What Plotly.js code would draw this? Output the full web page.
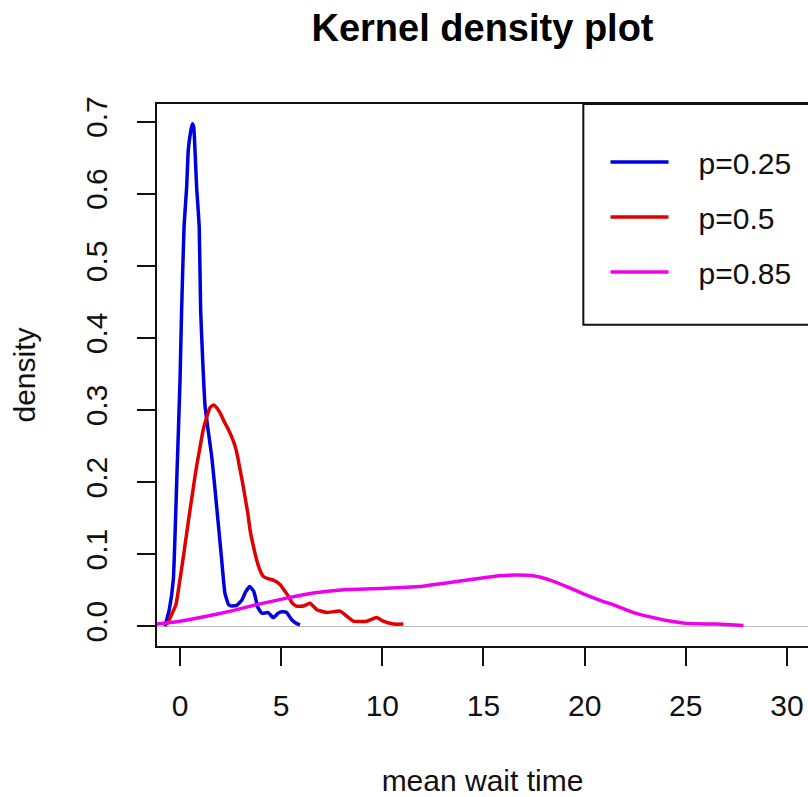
<!DOCTYPE html>
<html>
<head>
<meta charset="utf-8">
<script src="https://cdn.plot.ly/plotly-3.0.1.min.js"></script>
<style>html,body{margin:0;padding:0;background:#fff;overflow:hidden}</style>
</head>
<body>
<div id="chart" style="width:808px;height:797px"></div>
<script>
// ---- data ----
var seriesNames = ["p=0.25", "p=0.5", "p=0.85"];
var seriesColors = ["#0000dd", "#e00000", "#ee00ee"];

var blueX = [-0.74, -0.53, -0.33, -0.16, 0.0, 0.08, 0.20, 0.33, 0.41, 0.52, 0.61, 0.68, 0.74, 0.82, 0.95, 1.02, 1.12, 1.24, 1.40, 1.57, 1.73, 1.90, 2.06, 2.22, 2.40, 2.55, 2.80, 3.05, 3.25, 3.45, 3.65, 3.85, 4.05, 4.35, 4.61, 4.85, 5.05, 5.27, 5.52, 5.75, 5.93];
var blueY = [0.0, 0.023, 0.065, 0.203, 0.34, 0.439, 0.554, 0.61, 0.661, 0.685, 0.697, 0.692, 0.661, 0.61, 0.554, 0.439, 0.37, 0.305, 0.27, 0.235, 0.19, 0.14, 0.092, 0.046, 0.030, 0.028, 0.029, 0.036, 0.048, 0.055, 0.048, 0.026, 0.018, 0.019, 0.012, 0.018, 0.020, 0.019, 0.009, 0.004, 0.002];

var redX = [-0.66, -0.45, -0.2, 0.0, 0.2, 0.41, 0.62, 0.82, 1.0, 1.15, 1.32, 1.48, 1.65, 1.82, 1.98, 2.2, 2.39, 2.55, 2.72, 2.85, 2.97, 3.1, 3.21, 3.35, 3.46, 3.62, 3.79, 3.95, 4.12, 4.35, 4.61, 4.94, 5.15, 5.35, 5.55, 5.75, 6.1, 6.43, 6.76, 7.25, 7.91, 8.24, 8.57, 9.23, 9.72, 10.05, 10.55, 11.04];
var redY = [0.002, 0.014, 0.03, 0.065, 0.103, 0.145, 0.185, 0.222, 0.25, 0.273, 0.29, 0.303, 0.307, 0.303, 0.296, 0.283, 0.273, 0.263, 0.25, 0.235, 0.217, 0.198, 0.18, 0.157, 0.134, 0.112, 0.092, 0.078, 0.069, 0.066, 0.064, 0.058, 0.05, 0.042, 0.032, 0.028, 0.028, 0.032, 0.023, 0.019, 0.021, 0.014, 0.007, 0.007, 0.012, 0.007, 0.003, 0.003];

var magX = [-1.14, 0.0, 1.32, 2.5, 3.79, 5.27, 6.59, 8.24, 9.5, 10.43, 11.86, 13.18, 14.67, 15.82, 16.64, 17.46, 18.29, 19.11, 19.94, 20.76, 21.59, 22.41, 23.23, 24.06, 25.05, 26.53, 27.85];
var magY = [0.003, 0.007, 0.014, 0.021, 0.030, 0.039, 0.046, 0.051, 0.052, 0.053, 0.055, 0.060, 0.066, 0.070, 0.071, 0.070, 0.064, 0.055, 0.045, 0.036, 0.028, 0.019, 0.013, 0.008, 0.004, 0.003, 0.001];

var xTicks = [0, 5, 10, 15, 20, 25, 30];
var yTicks = [0, 0.1, 0.2, 0.3, 0.4, 0.5, 0.6, 0.7];
var yTickText = ["0.0", "0.1", "0.2", "0.3", "0.4", "0.5", "0.6", "0.7"];

// ---- build ----
var FONT = "Liberation Sans, Arial, Helvetica, sans-serif";
var xs = [blueX, redX, magX], ys = [blueY, redY, magY];
var traces = xs.map(function (x, i) {
  return {
    x: x, y: ys[i], type: "scatter", mode: "lines",
    name: "&nbsp;&nbsp;&nbsp;" + seriesNames[i], legendgroup: "g" + i,
    line: {color: seriesColors[i], width: 3.5, shape: "spline", smoothing: 0.4},
    hoverinfo: "skip"
  };
});

var axisFont = {family: FONT, size: 30, color: "#111"};
var layout = {
  width: 808, height: 797,
  margin: {l: 157, r: 0, t: 104, b: 151, pad: 0},
  paper_bgcolor: "#fff", plot_bgcolor: "#fff",
  font: {family: FONT, color: "#111"},
  title: {text: "<b>Kernel density plot</b>", font: {family: FONT, size: 38, color: "#000"},
          x: 0.5, xref: "paper", xanchor: "center", y: 0.965, yref: "container", yanchor: "middle"},
  xaxis: {
    range: [-1.137, 31.04], tickvals: xTicks, ticks: "outside", ticklen: 18, tickwidth: 2, tickcolor: "#111",
    showline: true, linecolor: "#111", linewidth: 2, mirror: true, ticklabelstandoff: 14,
    showgrid: false, zeroline: false, tickfont: axisFont, automargin: false,
    title: {text: "mean wait time", font: axisFont, standoff: 50}
  },
  yaxis: {
    range: [-0.0274, 0.7245], tickvals: yTicks, ticktext: yTickText, tickangle: -90,
    ticks: "outside", ticklen: 18, tickwidth: 2, tickcolor: "#111", ticklabelstandoff: 18,
    showline: true, linecolor: "#111", linewidth: 2, mirror: false,
    showgrid: false, zeroline: true, zerolinecolor: "#bebebe", zerolinewidth: 1.5,
    tickfont: axisFont, automargin: false,
    title: {text: "density", font: axisFont, standoff: 36}
  },
  showlegend: true,
  legend: {x: 0.689, xanchor: "left", y: 0.941, yanchor: "top", bgcolor: "rgba(0,0,0,0)",
           borderwidth: 0, font: {family: FONT, size: 30, color: "#111"},
           itemwidth: 58, tracegroupgap: 13, traceorder: "grouped"},
  shapes: [{type: "rect", xref: "paper", yref: "paper", x0: 0.6549, x1: 1.2, y0: 0.5926, y1: 1,
            line: {color: "#111", width: 2}, fillcolor: "rgba(0,0,0,0)", layer: "above"}]
};

Plotly.newPlot("chart", traces, layout, {displayModeBar: false, staticPlot: true});
</script>
</body>
</html>
